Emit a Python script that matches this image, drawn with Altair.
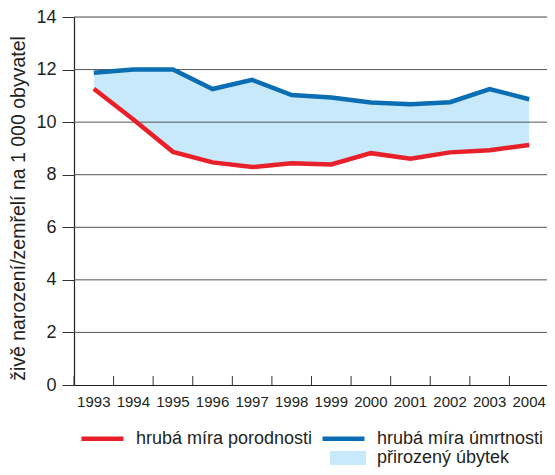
import altair as alt
import pandas as pd

years = [1993, 1994, 1995, 1996, 1997, 1998, 1999, 2000, 2001, 2002, 2003, 2004]
birth = [11.27, 10.10, 8.87, 8.47, 8.29, 8.44, 8.39, 8.82, 8.61, 8.85, 8.93, 9.13]
death = [11.88, 12.00, 12.00, 11.26, 11.61, 11.03, 10.94, 10.75, 10.68, 10.76, 11.26, 10.87]
series_names = ["hrubá míra porodnosti", "hrubá míra úmrtnosti"]
series_colors = ["#e8202a", "#0a6eb4"]
area_name = ["přirozený úbytek"]
area_color = ["#c8e9f9"]
y_ticks = [0, 2, 4, 6, 8, 10, 12, 14]
y_title = "živě narození/zemřelí na 1 000 obyvatel"

W, H = 473, 368      # visible plot area (canvas must fit in the page)
XR = 475             # full extent of the 12 year bands
FONT = "Liberation Sans"

wide = pd.DataFrame({"year": [str(y) for y in years], "birth": birth, "death": death,
                     "typ": area_name * len(years)})
long = pd.concat([
    pd.DataFrame({"year": [str(y) for y in years], "value": birth, "serie": series_names[0]}),
    pd.DataFrame({"year": [str(y) for y in years], "value": death, "serie": series_names[1]}),
])
grid = pd.DataFrame({"v": [t for t in y_ticks if t > 0]})
ticks = pd.DataFrame({"year": [str(y) for y in years]})

xscale = alt.Scale(type="band", paddingInner=0, paddingOuter=0, range=[0, XR])
yscale = alt.Scale(domain=[0, 14], nice=False)

xaxis = alt.Axis(title=None, ticks=False, labelFont=FONT, labelFontSize=15,
                 labelColor="#231f20", labelPadding=9, domainColor="#222",
                 domainWidth=1.2, labelAngle=0)
yaxis = alt.Axis(title=y_title, values=y_ticks, grid=False, tickSize=12,
                 tickColor="#333", domainColor="#222", domainWidth=1.2,
                 labelFont=FONT, labelFontSize=18, labelColor="#231f20",
                 labelPadding=6, titleFont=FONT, titleFontSize=19.5,
                 titleFontWeight="normal", titleColor="#231f20",
                 titleX=-56, titleY=191, titleAngle=-90, titleBaseline="middle",
                 titleAlign="center")

area = alt.Chart(wide).mark_area(opacity=1).encode(
    x=alt.X("year:O", scale=xscale, axis=xaxis, bandPosition=0.5),
    y=alt.Y("death:Q", scale=yscale, axis=yaxis),
    y2="birth:Q",
    fill=alt.Fill("typ:N", scale=alt.Scale(domain=area_name, range=area_color),
                  legend=alt.Legend(title=None, orient="none", legendX=256, legendY=423,
                                    symbolType="M-1,-0.39h2v0.78h-2z", symbolSize=1296,
                                    symbolStrokeWidth=0, labelFont=FONT, labelFontSize=18,
                                    labelLimit=400,
                                    labelColor="#231f20", labelOffset=11, padding=0)),
)

gridlines = alt.Chart(grid).mark_rule(color="#555", strokeWidth=1).encode(
    y=alt.Y("v:Q", scale=yscale), x=alt.value(0), x2=alt.value(XR)
)

xticks = alt.Chart(ticks).mark_rule(color="#333", strokeWidth=1).encode(
    x=alt.X("year:O", scale=xscale, bandPosition=0),
    y=alt.value(H - 9), y2=alt.value(H),
)

lines = alt.Chart(long).mark_line(strokeWidth=4.5).encode(
    x=alt.X("year:O", scale=xscale, bandPosition=0.5),
    y=alt.Y("value:Q", scale=yscale),
    color=alt.Color("serie:N", scale=alt.Scale(domain=series_names, range=series_colors),
                    legend=alt.Legend(title=None, orient="none", legendX=5, legendY=398,
                                      direction="horizontal", columns=2,
                                      symbolType="stroke", symbolSize=1764,
                                      symbolStrokeWidth=4.5, labelFont=FONT,
                                      labelFontSize=18, labelColor="#231f20",
                                      labelLimit=400,
                                      labelOffset=10, columnPadding=0, padding=0)),
    detail="serie:N",
)

chart = alt.layer(area, gridlines, xticks, lines).resolve_scale(
    color="independent", fill="independent"
).properties(
    width=W, height=H,
    autosize=alt.AutoSizeParams(type="none"),
    padding={"left": 66, "top": 9, "right": 0, "bottom": 82},
).configure_view(stroke=None).configure(background="white")

chart.save("out.html", embed_options={"renderer": "svg", "actions": False})
